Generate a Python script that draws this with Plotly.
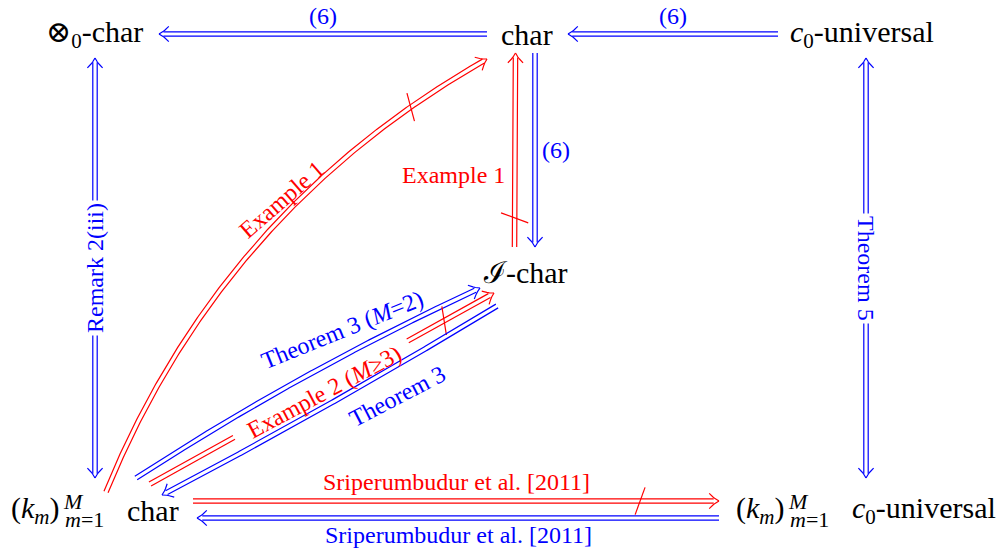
import numpy as np
import plotly.graph_objects as go

W, H = 1003, 550

# ---------------- data ----------------
node_ids = ["tensor0", "char", "c0univ", "Ichar", "kchar", "kc0univ"]
node_x = [95, 526, 866, 525, 95, 866]
node_y = [34, 34, 34, 272, 510, 510]
node_text = ["⊗<sub>0</sub>-char", "char", "<i>c</i><sub>0</sub>-universal",
             "ℐ-char", "char", "<i>c</i><sub>0</sub>-universal"]
node_has_prefix = [False, False, False, False, True, True]
prefix_main = "(<i>k<sub>m</sub></i>)"
prefix_sup = "<i>M</i>"
prefix_sub = "<i>m</i>=1"

edge_src = ["char", "c0univ", "tensor0", "c0univ", "char", "Ichar",
            "kchar", "kchar", "kchar", "Ichar", "kchar", "kc0univ"]
edge_dst = ["tensor0", "char", "kchar", "kc0univ", "Ichar", "char",
            "char", "Ichar", "Ichar", "kchar", "kc0univ", "kchar"]
edge_color = ["blue", "blue", "blue", "blue", "blue", "red",
              "red", "blue", "red", "blue", "red", "blue"]
edge_label = ["(6)", "(6)", "Remark 2(iii)", "Theorem 5", "(6)", "Example 1",
              "Example 1", "Theorem 3 (<i>M</i>=2)", "Example 2 (<i>M</i>≥3)",
              "Theorem 3", "Sriperumbudur et al. [2011]", "Sriperumbudur et al. [2011]"]
edge_negated = [False, False, False, False, False, True,
                True, False, True, False, True, False]

# ---------------- styles / geometry ----------------
COL = {"blue": "#0000ff", "red": "#ff0000"}
FONT = "'Liberation Serif', 'Times New Roman', Times, 'DejaVu Serif', serif"
NODE_SIZE = 30
SMALL_SIZE = 22
LABEL_SIZE = 24
LW = 1.2
GAP = 2.2

node_text_dx = {"tensor0": -1, "char": 1, "c0univ": -4, "Ichar": 0, "kchar": 58, "kc0univ": 58}
prefix_left = {"kchar": -86, "kc0univ": -132}

geom = [
    dict(s=(-39, 0), e=(64, 0), bend=0, heads="end", lt=0.5, lo=-18, la=0),
    dict(s=(-88, 0), e=(42, 0), bend=0, heads="end", lt=0.5, lo=-18, la=0),
    dict(s=(0, 24), e=(0, -32), bend=0, heads="both", lt=0.5, lo=0, la=-90, bg=True),
    dict(s=(0, 24), e=(0, -32), bend=0, heads="both", lt=0.5, lo=0, la=90, bg=True),
    dict(s=(9, 19), e=(10, -25), bend=0, heads="end", lt=0.5, lo=21, la=0),
    dict(s=(-10.5, -25), e=(-10.5, 19), bend=0, heads="end", lt=0.37, lo=61, la=0, slash=0.15),
    dict(s=(11, -18), e=(-39, 25), bend=50, heads="end", lt=0.58, lo=13, la=-41, slash=0.85),
    dict(s=(41, -32), e=(-45, 16), bend=7, heads="end", lt=0.64, lo=24, la=-22),
    dict(s=(55, -26), e=(-31, 21), bend=0, heads="end", lt=0.5, lo=-4, la=-28,
         gap=(0.247, 0.747), slash=0.855),
    dict(s=(-28, 34), e=(67, -15), bend=3, heads="end", lt=0.34, lo=27, la=-27.5),
    dict(s=(98, -9), e=(-147, -9), bend=0, heads="end", lt=0.5, lo=19, la=0, slash=0.85),
    dict(s=(-147, 8), e=(102, 8), bend=0, heads="end", lt=0.5, lo=17, la=0),
]

pos = {n: (x, y) for n, x, y in zip(node_ids, node_x, node_y)}


def control(p0, p2, bend):
    d = p2 - p0
    L = np.hypot(*d)
    nrm = np.array([d[1], -d[0]]) / L
    return (p0 + p2) / 2 + 2 * bend * nrm


def curve(p0, p2, bend, n=300):
    p0, p2 = np.asarray(p0, float), np.asarray(p2, float)
    c = control(p0, p2, bend)
    t = np.linspace(0, 1, n)[:, None]
    pts = (1 - t) ** 2 * p0 + 2 * (1 - t) * t * c + t ** 2 * p2
    der = 2 * (1 - t) * (c - p0) + 2 * t * (p2 - c)
    return t[:, 0], pts, der


def at(tq, p0, p2, bend):
    p0, p2 = np.asarray(p0, float), np.asarray(p2, float)
    c = control(p0, p2, bend)
    pt = (1 - tq) ** 2 * p0 + 2 * (1 - tq) * tq * c + tq ** 2 * p2
    dv = 2 * (1 - tq) * (c - p0) + 2 * tq * (p2 - c)
    u = dv / np.hypot(*dv)
    return pt, u, np.array([u[1], -u[0]])


def head(tip, u):
    v = np.array([-u[1], u[0]])
    arm = [(0, 0), (-2.0, 1.0), (-4.0, 2.4), (-6.0, 4.0), (-8.0, 5.8), (-9.8, 7.6)]
    xs, ys = [], []
    for sgn in (1, -1):
        for a, b in arm:
            p = tip + a * u + sgn * b * v
            xs.append(p[0]); ys.append(p[1])
        xs.append(np.nan); ys.append(np.nan)
    return xs, ys


fig = go.Figure()
annotations = []

for k in range(len(edge_src)):
    g = geom[k]
    sx, sy = pos[edge_src[k]]
    ex, ey = pos[edge_dst[k]]
    p0 = (sx + g["s"][0], sy + g["s"][1])
    p2 = (ex + g["e"][0], ey + g["e"][1])
    color = COL[edge_color[k]]
    t, pts, der = curve(p0, p2, g["bend"])
    seg = np.hypot(*np.diff(pts, axis=0).T)
    arc = np.concatenate([[0], np.cumsum(seg)])
    Ltot = arc[-1]
    keep = arc <= Ltot - 4.0
    if g["heads"] == "both":
        keep &= arc >= 4.0
    if "gap" in g:
        keep &= ~((t > g["gap"][0]) & (t < g["gap"][1]))
    un = der / np.hypot(der[:, 0], der[:, 1])[:, None]
    nv = np.stack([un[:, 1], -un[:, 0]], axis=1)
    xs, ys = [], []
    for sgn in (1, -1):
        off = pts + sgn * GAP * nv
        ox = np.where(keep, off[:, 0], np.nan)
        oy = np.where(keep, off[:, 1], np.nan)
        xs += list(ox) + [np.nan]
        ys += list(oy) + [np.nan]
    hx, hy = head(pts[-1], un[-1])
    xs += hx; ys += hy
    if g["heads"] == "both":
        hx, hy = head(pts[0], -un[0])
        xs += hx; ys += hy
    if edge_negated[k] and "slash" in g:
        c, u, _ = at(g["slash"], p0, p2, g["bend"])
        ang = np.arctan2(u[1], u[0]) + np.deg2rad(110)
        dvec = np.array([np.cos(ang), np.sin(ang)]) * 14.5
        xs += [c[0] - dvec[0], c[0] + dvec[0], np.nan]
        ys += [c[1] - dvec[1], c[1] + dvec[1], np.nan]
    fig.add_trace(go.Scatter(x=xs, y=ys, mode="lines", line=dict(color=color, width=LW),
                             hoverinfo="skip", showlegend=False))
    c, u, nrm = at(g["lt"], p0, p2, g["bend"])
    lp = c + g["lo"] * nrm
    annotations.append(dict(x=lp[0], y=lp[1], text=edge_label[k], showarrow=False,
                            xanchor="center", yanchor="middle", textangle=g["la"],
                            font=dict(family=FONT, size=LABEL_SIZE, color=color),
                            bgcolor="white" if g.get("bg") else None, borderpad=2))

for n, x, y, txt, pre in zip(node_ids, node_x, node_y, node_text, node_has_prefix):
    annotations.append(dict(x=x + node_text_dx[n], y=y, text=txt, showarrow=False,
                            xanchor="center", yanchor="middle",
                            font=dict(family=FONT, size=NODE_SIZE, color="black")))
    if pre:
        lx = x + prefix_left[n]
        annotations.append(dict(x=lx, y=y, text=prefix_main, showarrow=False,
                                xanchor="left", yanchor="middle",
                                font=dict(family=FONT, size=NODE_SIZE, color="black")))
        annotations.append(dict(x=lx + 52, y=y - 9, text=prefix_sup, showarrow=False,
                                xanchor="left", yanchor="middle",
                                font=dict(family=FONT, size=SMALL_SIZE, color="black")))
        annotations.append(dict(x=lx + 54, y=y + 9, text=prefix_sub, showarrow=False,
                                xanchor="left", yanchor="middle",
                                font=dict(family=FONT, size=SMALL_SIZE, color="black")))

fig.update_layout(
    width=W, height=H, margin=dict(l=0, r=0, t=0, b=0),
    paper_bgcolor="white", plot_bgcolor="white",
    font=dict(family=FONT),
    xaxis=dict(range=[0, W], visible=False, fixedrange=True),
    yaxis=dict(range=[H, 0], visible=False, fixedrange=True),
    annotations=annotations, showlegend=False,
)
fig.write_html("out.html", post_script="document.body.style.margin='0px';",
               config={"displayModeBar": False})
